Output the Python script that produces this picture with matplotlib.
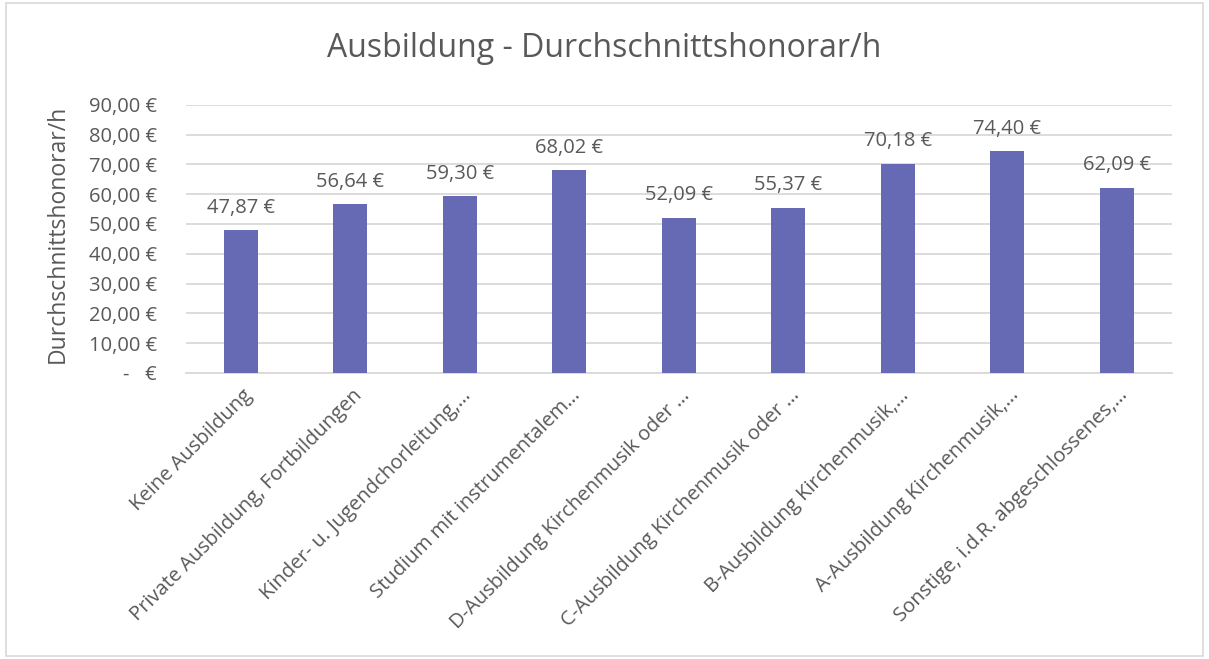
import matplotlib.pyplot as plt
import matplotlib.transforms as mtransforms
from matplotlib.ticker import FuncFormatter, MultipleLocator
from matplotlib.patches import Rectangle

categories = ['Keine Ausbildung',
              'Private Ausbildung, Fortbildungen',
              'Kinder- u. Jugendchorleitung,…',
              'Studium mit instrumentalem…',
              'D-Ausbildung Kirchenmusik oder …',
              'C-Ausbildung Kirchenmusik oder …',
              'B-Ausbildung Kirchenmusik,…',
              'A-Ausbildung Kirchenmusik,…',
              'Sonstige, i.d.R. abgeschlossenes,…']
honorar = [47.87, 56.64, 59.30, 68.02, 52.09, 55.37, 70.18, 74.40, 62.09]

text_col = '#595959'
bar_col = '#6669b4'
grid_col = '#d9d9d9'

plt.rcParams['font.family'] = ['Open Sans', 'DejaVu Sans']

fig = plt.figure(figsize=(12.09, 6.59), dpi=100)
ax = fig.add_axes([0.154, 0.434, 0.815, 0.407])

x = range(len(categories))
ax.bar(x, honorar, width=0.31, color=bar_col, zorder=3)

def eur(v):
    return f'{v:.2f}'.replace('.', ',') + ' €'

for i, v in enumerate(honorar):
    ax.annotate(eur(v), (i, v), xytext=(0, 9), textcoords='offset points',
                ha='center', va='bottom', fontsize=14.5, color=text_col)

ax.set_xlim(-0.5, len(categories) - 0.5)
ax.set_ylim(0, 90)
ax.yaxis.set_major_locator(MultipleLocator(10))
ax.yaxis.set_major_formatter(FuncFormatter(lambda v, p: '-   €' if v == 0 else eur(v)))
ax.grid(axis='y', color=grid_col, linewidth=1.3, zorder=0)

for s in ['top', 'right', 'left']:
    ax.spines[s].set_visible(False)
ax.spines['bottom'].set_color(grid_col)
ax.spines['bottom'].set_linewidth(1.3)
ax.tick_params(axis='both', length=0, labelcolor=text_col)
ax.tick_params(axis='y', labelsize=14.5, pad=21)

ax.set_xticks(list(x))
ax.set_xticklabels(categories, rotation=45, ha='right', va='center',
                   rotation_mode='anchor', fontsize=14.5)
ax.tick_params(axis='x', pad=14)
shift = mtransforms.ScaledTranslation(6 / 72, 0, fig.dpi_scale_trans)
for lbl in ax.get_xticklabels():
    lbl.set_transform(lbl.get_transform() + shift)

ax.set_ylabel('Durchschnittshonorar/h', fontsize=16.5, color=text_col, labelpad=6)
ax.yaxis.set_label_coords(-0.118, 0.52)
fig.text(0.5, 0.926, 'Ausbildung - Durchschnittshonorar/h', ha='center', va='center',
         fontsize=23, color=text_col)

fig.patches.append(Rectangle((0.005, 0.005), 0.99, 0.99, transform=fig.transFigure,
                             fill=False, edgecolor=grid_col, linewidth=1.2))

plt.savefig('out.png', dpi=100)
